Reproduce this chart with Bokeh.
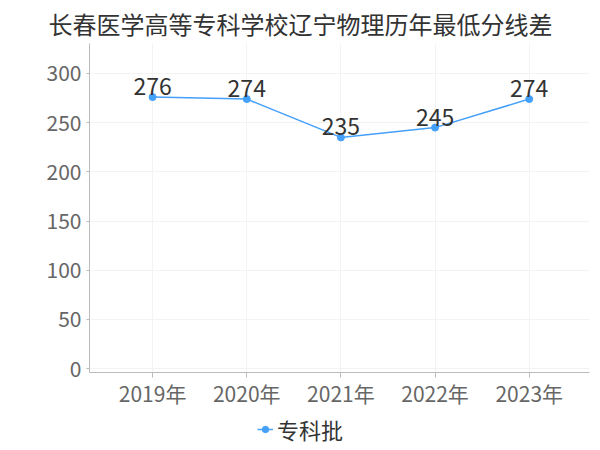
from bokeh.plotting import figure
from bokeh.layouts import column
from bokeh.models import FixedTicker, Range1d, Legend, LegendItem, ColumnDataSource
from bokeh.embed import file_html
from bokeh.resources import INLINE
from bokeh.core.properties import value

title = "长春医学高等专科学校辽宁物理历年最低分线差"
years = ["2019年", "2020年", "2021年", "2022年", "2023年"]
scores = [276, 274, 235, 245, 274]
series_name = "专科批"
y_ticks = [0, 50, 100, 150, 200, 250, 300]

FONT = "Noto Sans CJK SC"
COLOR = "#45a0fa"
xs = list(range(len(years)))
src = ColumnDataSource(dict(x=xs, y=scores, lab=[str(s) for s in scores]))

p = figure(width=596, height=410, output_backend="svg", toolbar_location=None,
           x_range=Range1d(-0.67, 4.64), y_range=Range1d(-4, 330.5),
           min_border_left=89, min_border_right=7, min_border_top=43, min_border_bottom=38)
p.title.text = title
p.title.align = "left"
p.title.offset = -41
p.title.text_font = FONT
p.title.text_font_size = "24px"
p.title.text_font_style = "normal"
p.title.text_color = "#333333"
p.title.standoff = 5
p.outline_line_color = None

p.line("x", "y", source=src, line_color=COLOR, line_width=1.5)
p.scatter("x", "y", source=src, size=7, fill_color=COLOR, line_color=COLOR)
p.text("x", "y", text="lab", source=src, text_align="center", text_baseline="bottom",
       y_offset=-2, text_font=value(FONT), text_font_size="23px", text_color="#333333")

p.xaxis.ticker = FixedTicker(ticks=xs)
p.xaxis.major_label_overrides = {i: y for i, y in enumerate(years)}
p.yaxis.ticker = FixedTicker(ticks=y_ticks)
for ax in (p.xaxis, p.yaxis):
    ax.axis_line_color = "#bbbbbb"
    ax.major_tick_line_color = "#bbbbbb"
    ax.minor_tick_line_color = None
    ax.major_label_text_font = FONT
    ax.major_label_text_font_size = "21px"
    ax.major_label_text_color = "#666666"
p.xaxis.major_tick_out = 5
p.xaxis.major_tick_in = 0
p.xaxis.major_label_standoff = 0
p.yaxis.major_tick_out = 3
p.yaxis.major_tick_in = 0
p.yaxis.major_label_standoff = 5
p.xgrid.ticker = FixedTicker(ticks=xs)
p.xgrid.grid_line_color = "#f3f3f3"
p.ygrid.grid_line_color = "#f3f3f3"

# legend strip below the chart
lg = figure(width=596, height=40, output_backend="svg", toolbar_location=None,
            x_range=Range1d(0, 1), y_range=Range1d(0, 1),
            min_border_left=89, min_border_right=7, min_border_top=0, min_border_bottom=0,
            outline_line_color=None)
lg.axis.visible = False
lg.grid.visible = False
dummy = ColumnDataSource(dict(x=[-5, -4], y=[-5, -4]))
ll = lg.line("x", "y", source=dummy, line_color=COLOR, line_width=1.5)
ls = lg.scatter("x", "y", source=dummy, size=7, fill_color=COLOR, line_color=COLOR)
legend = Legend(items=[LegendItem(label=series_name, renderers=[ll, ls])],
                orientation="horizontal", location=(168, 5),
                label_text_font=FONT, label_text_font_size="22px", label_text_color="#333333",
                border_line_color=None, background_fill_alpha=0, glyph_width=16,
                glyph_height=20, label_standoff=4, padding=0, margin=0, label_height=20)
lg.add_layout(legend)

open("out.html", "w").write(file_html(column(p, lg, spacing=0), INLINE))
